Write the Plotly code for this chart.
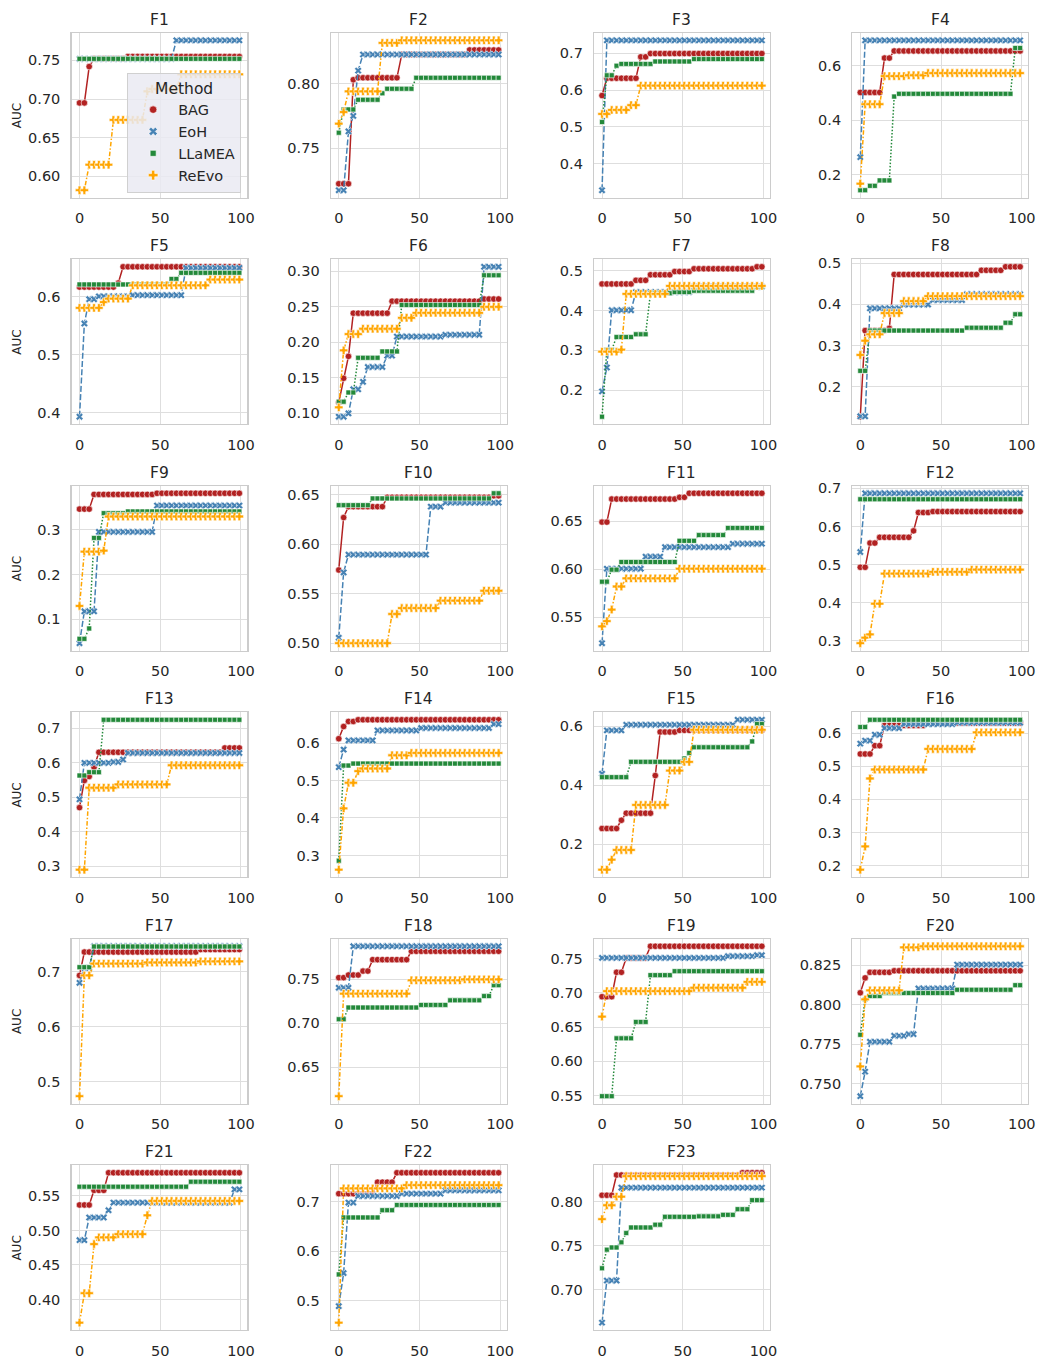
import plotly.graph_objects as go

# ---------------- data ----------------
ITER = list(range(0, 100, 3))          # sampled iterations
METHODS = ["BAG", "EoH", "LLaMEA", "ReEvo"]
TITLES = [f"F{i}" for i in range(1, 24)]

# best-so-far AUC as change points: (iteration, value)
F1_BAG = [(0, .695), (5, .742), (8, .752), (28, .755)]
F1_EOH = [(0, .752), (58, .776)]
F1_LLAMEA = [(0, .752)]
F1_REEVO = [(0, .582), (5, .615), (20, .673), (40, .71), (45, .713), (62, .732)]

F2_BAG = [(0, .7225), (9, .803), (11, .8045), (38, .8225), (80, .826)]
F2_EOH = [(0, .7175), (5, .763), (9, .775), (12, .81), (14, .8225)]
F2_LLAMEA = [(0, .762), (2, .78), (12, .7875), (26, .7925), (28, .796), (48, .8045)]
F2_REEVO = [(0, .769), (3, .778), (5, .794), (27, .8315), (39, .8335)]

F3_BAG = [(0, .585), (2, .632), (24, .69), (28, .699)]
F3_EOH = [(0, .328), (2, .735)]
F3_LLAMEA = [(0, .513), (3, .64), (9, .666), (12, .671), (31, .6775), (56, .684)]
F3_REEVO = [(0, .535), (5, .546), (18, .559), (24, .612)]

F4_BAG = [(0, .502), (15, .628), (20, .654)]
F4_EOH = [(0, .265), (2, .693)]
F4_LLAMEA = [(0, .144), (6, .16), (12, .18), (21, .487), (23, .497), (96, .665)]
F4_REEVO = [(0, .168), (3, .459), (15, .562), (30, .565), (42, .573)]

F5_BAG = [(0, .617), (23, .624), (26, .652)]
F5_EOH = [(0, .393), (3, .554), (5, .596), (10, .601), (32, .603), (66, .65)]
F5_LLAMEA = [(0, .6215), (56, .631), (63, .6415)]
F5_REEVO = [(0, .581), (14, .591), (17, .597), (33, .62), (80, .63)]

F6_BAG = [(0, .115), (3, .149), (6, .18), (8, .241), (31, .258), (89, .261)]
F6_EOH = [(0, .0948), (6, .0995), (8, .1335), (14, .144), (17, .165), (30, .181), (35, .208), (64, .2105), (88, .3065)]
F6_LLAMEA = [(0, .116), (5, .129), (11, .178), (27, .187), (39, .2525), (88, .2945)]
F6_REEVO = [(0, .108), (2, .1885), (6, .2115), (14, .219), (39, .2345), (48, .2415), (89, .25)]

F7_BAG = [(0, .467), (20, .476), (29, .49), (44, .498), (57, .505), (94, .51)]
F7_EOH = [(0, .197), (2, .257), (4, .401), (19, .4465), (57, .46)]
F7_LLAMEA = [(0, .1335), (3, .3015), (8, .3335), (21, .3405), (28, .4435), (45, .4465), (56, .45), (94, .459)]
F7_REEVO = [(0, .297), (12, .302), (14, .442), (40, .462)]

F8_BAG = [(0, .128), (3, .3365), (18, .342), (20, .4725), (74, .4825), (90, .491)]
F8_EOH = [(0, .129), (6, .3905), (25, .3995), (43, .4105), (65, .4245)]
F8_LLAMEA = [(0, .239), (5, .325), (6, .3365), (66, .3435), (89, .3555), (96, .376)]
F8_REEVO = [(0, .2775), (3, .312), (6, .3275), (13, .379), (26, .408), (42, .42)]

F9_BAG = [(0, .3465), (9, .3795), (48, .382)]
F9_EOH = [(0, .046), (2, .1175), (10, .285), (11, .2955), (46, .3545)]
F9_LLAMEA = [(0, .0557), (6, .079), (8, .282), (14, .3375), (30, .3413)]
F9_REEVO = [(0, .1295), (2, .2513), (15, .2535), (17, .33)]

F10_BAG = [(0, .574), (2, .627), (5, .638), (30, .6475), (96, .649)]
F10_EOH = [(0, .5055), (2, .5715), (5, .5895), (56, .638), (64, .642)]
F10_LLAMEA = [(0, .6395), (19, .6463), (96, .6515)]
F10_REEVO = [(0, .5), (32, .5295), (39, .5355), (62, .543), (90, .553)]

F11_BAG = [(0, .649), (5, .673), (46, .6748), (54, .679)]
F11_EOH = [(0, .523), (3, .6005), (26, .613), (37, .623), (81, .6265)]
F11_LLAMEA = [(0, .587), (5, .5995), (10, .6075), (47, .6295), (60, .6355), (78, .643)]
F11_REEVO = [(0, .5405), (3, .546), (6, .558), (8, .582), (13, .5905), (48, .6005)]

F12_BAG = [(0, .493), (5, .5175), (6, .5565), (12, .5715), (33, .5885), (35, .6365), (44, .639)]
F12_EOH = [(0, .533), (3, .687)]
F12_LLAMEA = [(0, .6713)]
F12_REEVO = [(0, .294), (3, .3085), (6, .317), (8, .3975), (14, .4765), (44, .481), (68, .487)]

F13_BAG = [(0, .47), (2, .5485), (6, .56), (8, .572), (9, .587), (12, .63), (89, .6425)]
F13_EOH = [(0, .494), (2, .5995), (21, .602), (27, .609), (29, .628)]
F13_LLAMEA = [(0, .5628), (6, .5725), (15, .724)]
F13_REEVO = [(0, .2905), (4, .5275), (24, .537), (55, .5925)]

F14_BAG = [(0, .6115), (2, .644), (6, .6575), (11, .662)]
F14_EOH = [(0, .5355), (3, .5825), (6, .607), (23, .6335), (51, .64), (96, .6505)]
F14_LLAMEA = [(0, .286), (2, .5398), (9, .545)]
F14_REEVO = [(0, .262), (3, .4255), (5, .494), (10, .525), (15, .532), (32, .5673), (45, .5735)]

F15_BAG = [(0, .253), (12, .281), (14, .305), (31, .414), (33, .433), (34, .581), (48, .5865)]
F15_EOH = [(0, .439), (3, .5865), (13, .6055), (83, .6225)]
F15_LLAMEA = [(0, .4275), (16, .4795), (49, .491), (53, .51), (55, .529), (93, .549), (96, .608)]
F15_REEVO = [(0, .113), (5, .147), (9, .18), (20, .333), (40, .45), (50, .4795), (56, .5885)]

F16_BAG = [(0, .537), (8, .562), (14, .623), (40, .63)]
F16_EOH = [(0, .568), (3, .577), (7, .595), (15, .615), (26, .627), (60, .631)]
F16_LLAMEA = [(0, .618), (6, .64)]
F16_REEVO = [(0, .188), (3, .258), (5, .463), (7, .483), (9, .49), (40, .552), (70, .602)]

F17_BAG = [(0, .6935), (3, .736), (74, .7405)]
F17_EOH = [(0, .68), (2, .707), (8, .7465)]
F17_LLAMEA = [(0, .7085), (7, .746)]
F17_REEVO = [(0, .474), (2, .6935), (9, .715), (42, .717), (75, .719)]

F18_BAG = [(0, .752), (6, .755), (13, .7595), (21, .7725), (43, .782)]
F18_EOH = [(0, .7405), (7, .7877)]
F18_LLAMEA = [(0, .7047), (6, .718), (50, .721), (68, .7262), (90, .731), (96, .7435)]
F18_REEVO = [(0, .6172), (3, .7338), (43, .749), (77, .75)]

F19_BAG = [(0, .6943), (8, .73), (14, .751), (30, .768)]
F19_EOH = [(0, .751), (78, .7535), (96, .755)]
F19_LLAMEA = [(0, .549), (7, .62), (9, .6335), (21, .6575), (29, .671), (30, .7258), (44, .7316)]
F19_REEVO = [(0, .6653), (3, .7025), (56, .7074), (90, .716)]

F20_BAG = [(0, .8076), (3, .817), (6, .8205), (20, .8215)]
F20_EOH = [(0, .7422), (3, .7577), (5, .7766), (21, .7804), (28, .7814), (35, .8103), (60, .8254)]
F20_LLAMEA = [(0, .781), (2, .8034), (5, .8055), (14, .8074), (58, .8095), (95, .8124)]
F20_REEVO = [(0, .761), (2, .8034), (5, .8091), (25, .8363), (38, .837)]

F21_BAG = [(0, .537), (7, .5582), (17, .5837)]
F21_EOH = [(0, .486), (5, .5188), (17, .5293), (19, .5404), (95, .5596)]
F21_LLAMEA = [(0, .5635), (67, .5707)]
F21_REEVO = [(0, .3663), (2, .409), (7, .4803), (11, .49), (23, .4947), (42, .522), (44, .5428)]

F22_BAG = [(0, .7167), (22, .74), (34, .759)]
F22_EOH = [(0, .4893), (3, .5562), (5, .6987), (12, .712), (38, .7167), (64, .7234)]
F22_LLAMEA = [(0, .5535), (2, .6686), (25, .6833), (34, .694)]
F22_REEVO = [(0, .4559), (3, .7274), (40, .734)]

F23_BAG = [(0, .8076), (9, .8307), (87, .8333)]
F23_EOH = [(0, .6621), (3, .7102), (11, .8163)]
F23_LLAMEA = [(0, .7242), (3, .7455), (5, .748), (11, .7538), (14, .7644), (18, .7708), (33, .774),
              (39, .783), (60, .7835), (75, .7852), (84, .7917), (92, .802)]
F23_REEVO = [(0, .7803), (3, .7962), (9, .806), (13, .818), (15, .8295)]

# y tick step per panel
Y_DTICK = [0.05, 0.05, 0.1, 0.2, 0.1, 0.05, 0.1, 0.1, 0.1, 0.05, 0.05, 0.1,
           0.1, 0.1, 0.2, 0.1, 0.1, 0.05, 0.05, 0.025, 0.05, 0.1, 0.05]

g = globals()
PANELS = [[g[f"F{i}_{m.upper()}"] for m in METHODS] for i in range(1, 24)]


def best_so_far(changes):
    """value held since the latest change point at or before each sampled iteration"""
    out = []
    for it in ITER:
        v = None
        for cx, cy in changes:
            if cx <= it:
                v = cy
        out.append(v)
    return out


# ---------------- styling ----------------
W, H = 1053, 1359
FONT = "DejaVu Sans"
TXT = "#262626"
COLORS = {"BAG": "#b22222", "EoH": "#4682b4", "LLaMEA": "#23893a", "ReEvo": "#ffa500"}
DASH = {"BAG": "solid", "EoH": "6px,2.3px", "LLaMEA": "1.5px,1.8px", "ReEvo": "4.5px,1.9px,1.5px,1.9px"}
SYMBOL = {"BAG": "circle", "EoH": "x", "LLaMEA": "square", "ReEvo": "cross"}
MSIZE = {"BAG": 6.5, "EoH": 6.5, "LLaMEA": 5, "ReEvo": 7}

COL_LEFT = [72, 333, 598, 858]
ROW_TOP = [28, 256, 484, 712, 940, 1168]
PW, PH = 177, 166

fig = go.Figure()
layout = {}
annotations = []

for i, title in enumerate(TITLES):
    r, c = divmod(i, 4)
    n = i + 1
    xs = "x" if n == 1 else f"x{n}"
    ys = "y" if n == 1 else f"y{n}"
    all_vals = []
    for m, changes in zip(METHODS, PANELS[i]):
        yv = best_so_far(changes)
        all_vals += yv
        fig.add_trace(go.Scatter(
            x=ITER, y=yv, mode="lines+markers", name=m, xaxis=xs, yaxis=ys,
            showlegend=False, legendgroup=m, hoverinfo="skip",
            line=dict(color=COLORS[m], width=1.5, dash=DASH[m]),
            marker=dict(symbol=SYMBOL[m], size=MSIZE[m], color=COLORS[m],
                        line=dict(color="white", width=0.6)),
        ))
    lo, hi = min(all_vals), max(all_vals)
    pad = 0.05 * (hi - lo)
    left, top = COL_LEFT[c], ROW_TOP[r]
    dt = Y_DTICK[i]
    fmt = ".3f" if dt < 0.05 else (".2f" if dt < 0.1 else ".1f")
    axis_common = dict(
        showgrid=True, gridcolor="#dedede", gridwidth=1,
        showline=True, linecolor="#cccccc", linewidth=1.25, mirror=True,
        zeroline=False, ticks="", ticklabelstandoff=7,
        tickfont=dict(family=FONT, size=14.5, color=TXT),
    )
    layout["xaxis" if n == 1 else f"xaxis{n}"] = dict(
        domain=[left / W, (left + PW) / W], anchor=ys,
        range=[-4.95, 103.95], tickvals=[0, 50, 100], **axis_common)
    layout["yaxis" if n == 1 else f"yaxis{n}"] = dict(
        domain=[1 - (top + PH) / H, 1 - top / H], anchor=xs,
        range=[lo - pad, hi + pad], tick0=0, dtick=dt, tickformat=fmt, **axis_common)
    annotations.append(dict(
        text=title, x=(left + PW / 2) / W, y=1 - (top - 13) / H,
        xref="paper", yref="paper", xanchor="center", yanchor="middle",
        showarrow=False, font=dict(family=FONT, size=15.5, color=TXT)))
    if c == 0:
        annotations.append(dict(
            text="AUC", x=17 / W, y=1 - (top + PH / 2) / H,
            xref="paper", yref="paper", xanchor="center", yanchor="middle",
            textangle=-90, showarrow=False, font=dict(family=FONT, size=12, color=TXT)))

# legend entries (markers only, as in the reference)
for m in METHODS:
    fig.add_trace(go.Scatter(
        x=[None], y=[None], mode="markers", name=m, legendgroup=m, showlegend=True,
        marker=dict(symbol=SYMBOL[m], size=MSIZE[m] + 1, color=COLORS[m],
                    line=dict(color="white", width=0.6)),
    ))

fig.update_layout(
    width=W, height=H,
    margin=dict(l=0, r=0, t=0, b=0),
    paper_bgcolor="white", plot_bgcolor="white",
    font=dict(family=FONT, color=TXT),
    annotations=annotations,
    hovermode=False,
    legend=dict(
        x=128 / W, y=1 - 68 / H, xanchor="left", yanchor="top",
        bgcolor="rgba(234,234,242,0.85)", bordercolor="#d0d0d0", borderwidth=1,
        title=dict(text="Method", side="top center", font=dict(family=FONT, size=15.5, color=TXT)),
        font=dict(family=FONT, size=14.5, color=TXT),
        itemwidth=40, tracegroupgap=0,
    ),
    **layout,
)

fig.write_html(
    "out.html",
    config={"displayModeBar": False, "staticPlot": True},
    post_script="document.body.style.margin='0';document.body.style.padding='0';"
                "document.body.style.overflow='hidden';",
)
